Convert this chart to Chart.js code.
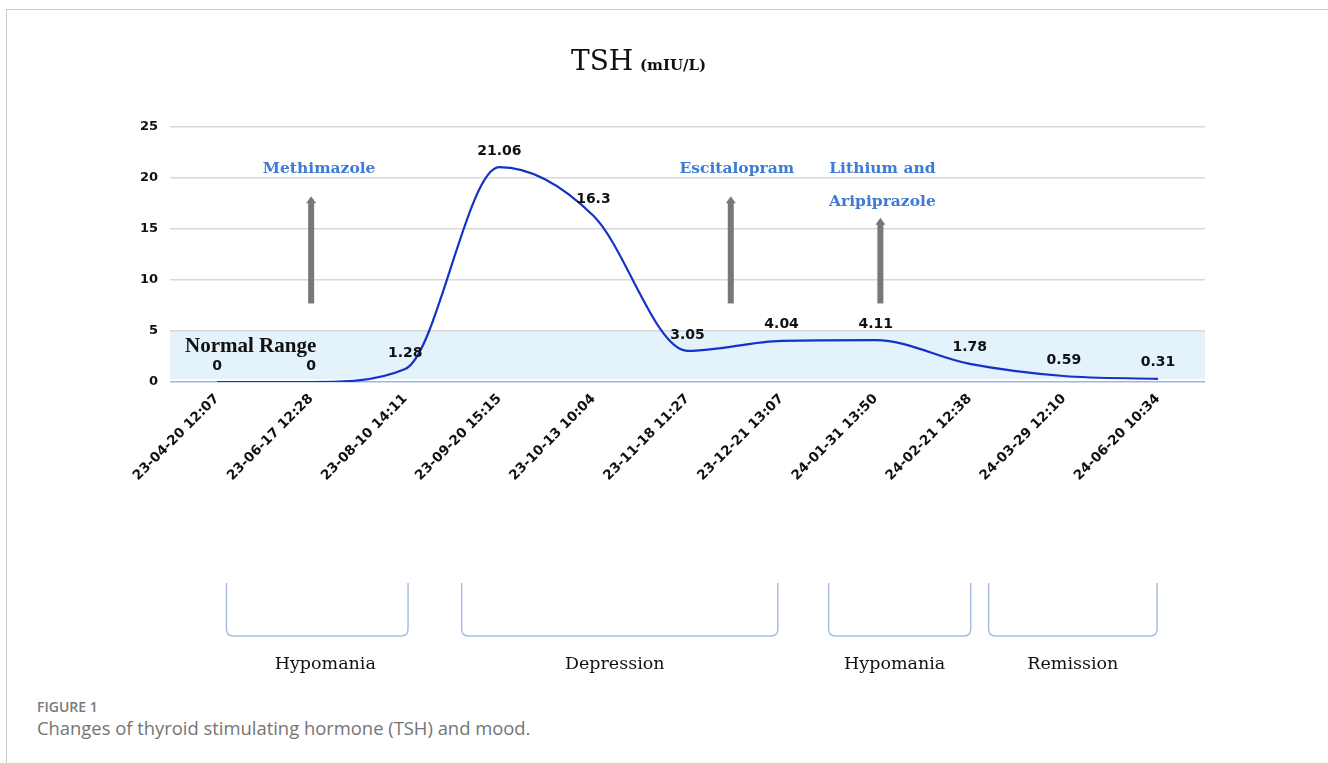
<!DOCTYPE html>
<html>
<head>
<meta charset="utf-8">
<script src="https://cdn.jsdelivr.net/npm/chart.js@4"></script>
<style>
  body { margin: 0; background: #fff; width: 1328px; height: 763px; overflow: hidden; position: relative; }
  #frame { position: absolute; left: 6px; top: 9px; width: 1400px; height: 800px;
           border-top: 1.5px solid #c9c9c9; border-left: 1.5px solid #c9c9c9; }
  #wrap { position: absolute; left: 0; top: 0; width: 1328px; height: 690px; }
  #figno { position: absolute; left: 37px; top: 697px; font: 600 14px "Open Sans", sans-serif; color: #7a7a7a; }
  #caption { position: absolute; left: 37px; top: 715px; font: 18.4px "Open Sans", sans-serif; color: #747474; }
</style>
</head>
<body>
<div id="frame"></div>
<div id="wrap"><canvas id="tshChart"></canvas></div>
<div id="figno">FIGURE 1</div>
<div id="caption">Changes of thyroid stimulating hormone (TSH) and mood.</div>
<script>
// measurement dates and TSH values (mIU/L)
const dates = ['23-04-20 12:07', '23-06-17 12:28', '23-08-10 14:11', '23-09-20 15:15',
  '23-10-13 10:04', '23-11-18 11:27', '23-12-21 13:07', '24-01-31 13:50',
  '24-02-21 12:38', '24-03-29 12:10', '24-06-20 10:34'];
const tsh = [0, 0, 1.28, 21.06, 16.3, 3.05, 4.04, 4.11, 1.78, 0.59, 0.31];
const yMax = 25, yStep = 5;
const normalRange = [0, 5];

// medication starts (category position, arrow from/to in TSH units)
const drugNames = [['Methimazole'], ['Escitalopram'], ['Lithium and', 'Aripiprazole']];
const drugAt = [1.0, 5.46, 7.05];
const arrowFrom = [7.7, 7.7, 7.7];
const arrowTo = [18.2, 18.2, 16.1];

// mood phases (category span)
const moodNames = ['Hypomania', 'Depression', 'Hypomania', 'Remission'];
const moodStart = [0.1, 2.6, 6.5, 8.2];
const moodEnd = [2.03, 5.96, 8.01, 9.99];

const canvas = document.getElementById('tshChart');

// plugin for the band, labels, arrows and phase brackets
const extras = {
  id: 'extras',
  beforeDraw(chart) {
    const { ctx, chartArea, scales: { y } } = chart;
    const top = y.getPixelForValue(normalRange[1]);
    const bot = y.getPixelForValue(normalRange[0]) - 3;
    ctx.save();
    ctx.fillStyle = '#e4f2fb';
    ctx.fillRect(chartArea.left, top, chartArea.right - chartArea.left, bot - top);
    ctx.restore();
  },
  afterDatasetsDraw(chart) {
    const { ctx, scales: { x, y } } = chart;
    ctx.save();

    // title
    ctx.fillStyle = '#111';
    ctx.textBaseline = 'alphabetic';
    ctx.textAlign = 'left';
    ctx.font = '28px "DejaVu Serif"';
    ctx.fillText('TSH', 571, 70);
    ctx.font = 'bold 15px "DejaVu Serif"';
    ctx.fillText('(mIU/L)', 640, 70);

    // normal range text
    ctx.font = 'bold 21px "Liberation Serif"';
    ctx.fillText('Normal Range', 185, 352);

    // value labels
    const meta = chart.getDatasetMeta(0);
    ctx.font = 'bold 14px "DejaVu Sans"';
    ctx.textAlign = 'center';
    ctx.textBaseline = 'middle';
    meta.data.forEach((pt, i) => {
      ctx.fillText(String(tsh[i]), pt.x, pt.y - 16);
    });

    // medication arrows and names
    const nameShift = [8, 6, 2];
    drugNames.forEach((lines, i) => {
      const px = x.getPixelForValue(drugAt[i]);
      const y0 = y.getPixelForValue(arrowFrom[i]);
      const y1 = y.getPixelForValue(arrowTo[i]);
      ctx.fillStyle = '#787878';
      ctx.fillRect(px - 3, y1 + 6, 6, y0 - y1 - 6);
      ctx.beginPath();
      ctx.moveTo(px - 5, y1 + 7);
      ctx.lineTo(px, y1);
      ctx.lineTo(px + 5, y1 + 7);
      ctx.closePath();
      ctx.fill();
      ctx.fillStyle = '#3f7bd4';
      ctx.font = 'bold 15.5px "DejaVu Serif"';
      ctx.textBaseline = 'alphabetic';
      lines.forEach((t, k) => {
        ctx.fillText(t, px + nameShift[i], 173 + k * 33);
      });
    });

    // mood brackets
    const bTop = 583, bBot = 636, r = 7;
    const labelShift = [8, -5, -5, 0];
    ctx.strokeStyle = '#a9bde3';
    ctx.lineWidth = 1.5;
    moodNames.forEach((name, i) => {
      const a = x.getPixelForValue(moodStart[i]);
      const b = x.getPixelForValue(moodEnd[i]);
      ctx.beginPath();
      ctx.moveTo(a, bTop);
      ctx.lineTo(a, bBot - r);
      ctx.quadraticCurveTo(a, bBot, a + r, bBot);
      ctx.lineTo(b - r, bBot);
      ctx.quadraticCurveTo(b, bBot, b, bBot - r);
      ctx.lineTo(b, bTop);
      ctx.stroke();
      ctx.fillStyle = '#111';
      ctx.font = '17.5px "DejaVu Serif"';
      ctx.textAlign = 'center';
      ctx.fillText(name, (a + b) / 2 + labelShift[i], 669);
    });
    ctx.restore();
  }
};

const chartConfig = {
  type: 'line',
  data: {
    labels: dates,
    datasets: [{
      label: 'TSH',
      data: tsh,
      borderColor: '#1432c8',
      borderWidth: 2.2,
      pointRadius: 0,
      fill: false,
      cubicInterpolationMode: 'monotone'
    }]
  },
  options: {
    responsive: true,
    maintainAspectRatio: false,
    animation: false,
    layout: { padding: { top: 127, right: 123, left: 0, bottom: 0 } },
    plugins: { legend: { display: false }, tooltip: { enabled: false } },
    scales: {
      x: {
        offset: true,
        grid: { display: false, drawTicks: false },
        border: { display: false },
        ticks: {
          minRotation: 45, maxRotation: 45, padding: 9,
          color: '#111', font: { family: 'DejaVu Sans', size: 13.5, weight: 'bold' }
        },
        afterFit(scale) { scale.height = 690 - 382; }
      },
      y: {
        min: 0, max: yMax,
        grid: {
          drawTicks: false,
          lineWidth: 1.5,
          color: ctx => ctx.tick.value === 0 ? '#9fb4e2' : '#d8d8d8'
        },
        border: { display: false },
        ticks: {
          stepSize: yStep, padding: 12,
          color: '#111', font: { family: 'DejaVu Sans', size: 13, weight: 'bold' }
        },
        afterFit(scale) { scale.width = 170; }
      }
    }
  },
  plugins: [extras]
};

new Chart(canvas, chartConfig);
</script>
</body>
</html>
